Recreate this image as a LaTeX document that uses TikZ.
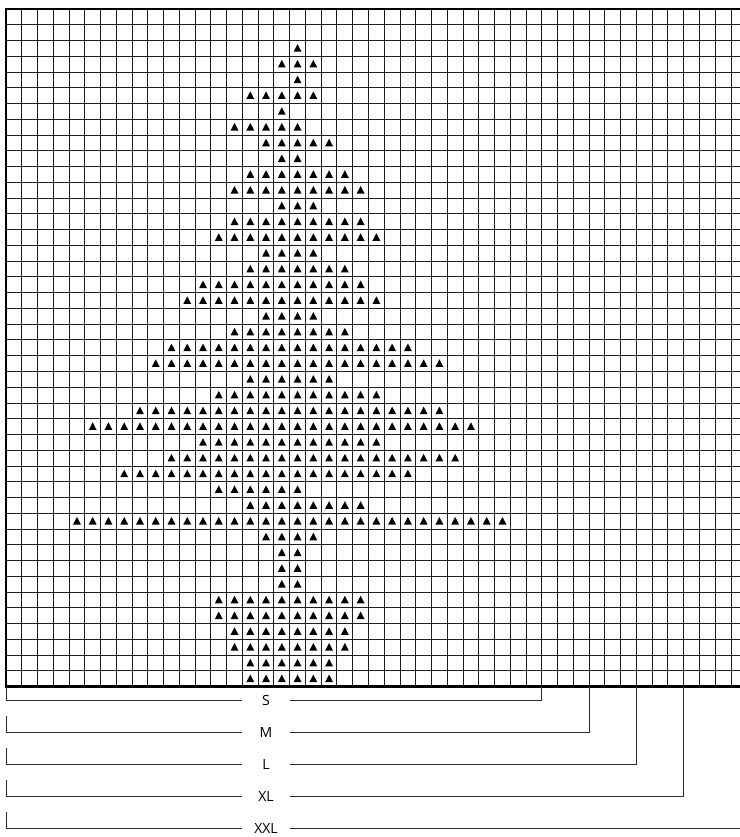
\documentclass[tikz,border=0pt]{standalone}
\usepackage{fontspec}
\setsansfont{Open Sans}
\usetikzlibrary{positioning}
\definecolor{chgrid}{RGB}{30,30,30}
\definecolor{chedge}{RGB}{0,0,0}
\definecolor{chlead}{RGB}{45,45,45}
\tikzset{
  cellline/.style={draw=chgrid, line width=0.72pt},
  frameline/.style={draw=chedge, line width=1.9pt, line join=miter},
  stitch/.style={fill=black},
  leader/.style={draw=chlead, line width=0.75pt},
  sizelbl/.style={
    font=\sffamily\fontsize{10.5}{12}\selectfont,
    inner sep=0pt, minimum width=35.46pt
  }
}

\begin{document}
\begin{tikzpicture}[x=11.82pt, y=11.82pt]
  \useasboundingbox (-0.381,-9.537) rectangle (46.57,43.571);
  % chart grid
  \foreach \i in {1,...,46}
    \draw[cellline] (\i,0) -- (\i,43);
  \foreach \j in {1,...,42}
    \draw[cellline] (0,\j) -- (46.57,\j);
  \draw[frameline] (46.57,43) -- (0,43) -- (0,0) -- (46.57,0);
  % stitches: row from top / first column / last column
  \foreach \r/\a/\b in {2/18/18, 3/17/19, 4/18/18, 5/15/19, 6/17/17,
      7/14/18, 8/16/20, 9/17/18, 10/15/21, 11/14/22, 12/17/19, 13/14/22,
      14/13/23, 15/16/19, 16/15/21, 17/12/22, 18/11/23, 19/16/19,
      20/14/21, 21/10/25, 22/9/27, 23/15/20, 24/13/23, 25/8/27, 26/5/29,
      27/12/23, 28/10/28, 29/7/25, 30/13/18, 31/15/22, 32/4/31,
      33/16/19, 34/17/18, 35/17/18, 36/17/18, 37/13/22, 38/13/22,
      39/14/21, 40/14/21, 41/15/20, 42/15/20} {
    \foreach \c in {\a,...,\b}
      \fill[stitch] ({\c+0.25},{42.29-\r}) -- ({\c+0.75},{42.29-\r})
        -- ({\c+0.5},{42.77-\r}) -- cycle;
  }
  % size markers
  \node[sizelbl] (szS) at (16.5,-0.9) {S};
  \node[sizelbl] (szM) at (16.5,-2.92) {M};
  \node[sizelbl] (szL) at (16.5,-4.94) {L};
  \node[sizelbl] (szXL) at (16.5,-6.96) {XL};
  \node[sizelbl] (szXXL) at (16.5,-8.98) {XXL};
  \coordinate (bS) at (0,0);
  \coordinate (bM) at (0,-1.85);
  \coordinate (bL) at (0,-3.89);
  \coordinate (bXL) at (0,-5.92);
  \coordinate (bXXL) at (0,-7.93);
  \coordinate (tS) at (34,0);
  \coordinate (tM) at (37,0);
  \coordinate (tL) at (40,0);
  \coordinate (tXL) at (43,0);
  \coordinate (tXXL) at (46.57,-8.98);
  \draw[leader] (bS) |- (szS.west);
  \draw[leader] (bM) |- (szM.west);
  \draw[leader] (bL) |- (szL.west);
  \draw[leader] (bXL) |- (szXL.west);
  \draw[leader] (bXXL) |- (szXXL.west);
  \draw[leader] (szS.east) -| (tS);
  \draw[leader] (szM.east) -| (tM);
  \draw[leader] (szL.east) -| (tL);
  \draw[leader] (szXL.east) -| (tXL);
  \draw[leader] (szXXL.east) -- (tXXL);
\end{tikzpicture}
\end{document}
